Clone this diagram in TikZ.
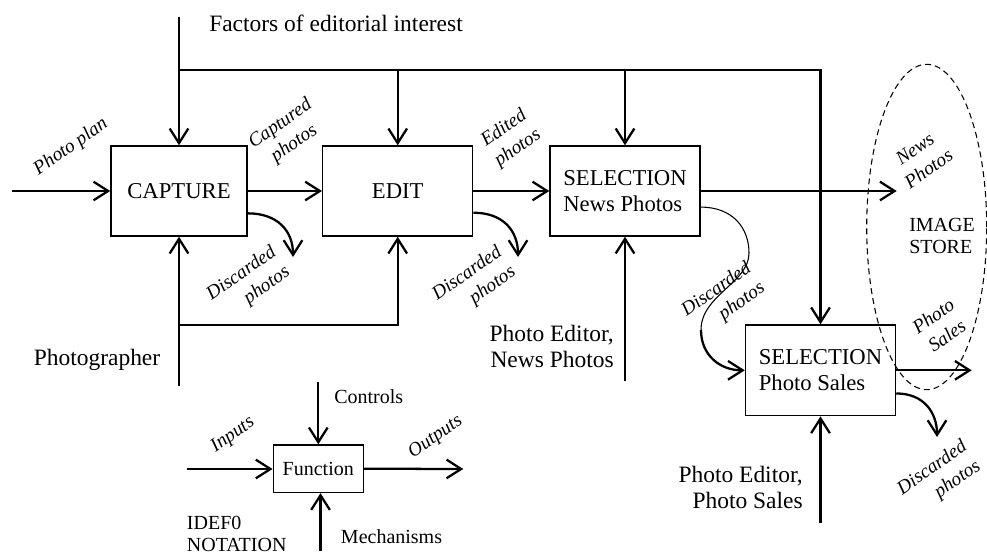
\documentclass[tikz,border=0pt]{standalone}
\usepackage{fontspec}
\setmainfont{Liberation Serif}
\usetikzlibrary{arrows.meta}
\begin{document}
\begin{tikzpicture}[x=0.75pt,y=-0.75pt,
  box/.style={draw, line width=1.1pt, inner sep=2pt, font=\fontsize{17}{19.5}\selectfont, align=left},
  arr/.style={line width=1.7pt, -{Straight Barb[length=11pt,width=14pt]}},
  thinln/.style={line width=0.8pt},
  lbl/.style={inner sep=0pt, font=\fontsize{17.6}{19.5}\selectfont},
  sm/.style={inner sep=0pt, font=\fontsize{15}{16.3}\selectfont},
  it/.style={inner sep=0pt, font=\fontsize{14.5}{18}\selectfont\itshape, rotate=35, align=center},
  store/.style={dashed, line width=0.8pt, dash pattern=on 4.5pt off 3pt},
]
\useasboundingbox (0,0) rectangle (987,554);

% boxes
\node[box, minimum width=102pt, minimum height=67.5pt] (cap) at (179,191) {CAPTURE};
\node[box, minimum width=112.5pt, minimum height=67.5pt] (edit) at (397.7,191) {EDIT};
\node[box, minimum width=112.5pt, minimum height=67.5pt] (news) at (625,191) {SELECTION\\News Photos};
\node[box, minimum width=112.5pt, minimum height=68pt] (sales) at (820.5,370.3) {SELECTION\\Photo Sales};
\node[box, font=\fontsize{15}{16.5}\selectfont, minimum width=67.5pt, minimum height=35.5pt] (fn) at (318.3,468.7) {Function};

% free ends
\coordinate (ftop) at (179,17);
\coordinate (busL) at (179,70);
\coordinate (busR) at (820.5,70);
\coordinate (pp) at (12,191);
\coordinate (newsout) at (896.7,191);
\coordinate (salesout) at (971.7,370.3);
\coordinate (ph) at (179,386);
\coordinate (phb) at (179,325);
\coordinate (pen) at (625,381);
\coordinate (pes) at (820.5,523);
\coordinate (ctl) at (318.3,382);
\coordinate (mech) at (320.5,551);
\coordinate (inp) at (186.7,469);
\coordinate (outp) at (463.3,469);
\coordinate (cd) at (293,257);
\coordinate (ed) at (518,257);
\coordinate (sd) at (937,437);
\coordinate (nd1) at (749,253);
\coordinate (nd2) at (701,330);

% connectors
\draw[arr] (ftop) -- (cap.north);
\draw[arr] (busL) -- (busR) -- (sales.north);
\draw[arr] (busL -| edit.north) -- (edit.north);
\draw[arr] (busL -| news.north) -- (news.north);
\draw[arr] (pp) -- (cap.west);
\draw[arr] (cap.east) -- (edit.west);
\draw[arr] (edit.east) -- (news.west);
\draw[arr] (news.east) -- (newsout);
\draw[arr] (sales.east) -- (salesout);
\draw[arr] (ph) -- (cap.south);
\draw[arr] (phb) -- (phb -| edit.south) -- (edit.south);
\draw[arr] (pen) -- (news.south);
\draw[arr] (pes) -- (sales.south);
\draw[arr] (ctl) -- (ctl |- fn.north);
\draw[arr] (mech) -- (mech |- fn.south);
\draw[arr] (inp) -- (inp -| fn.west);
\draw[arr] (fn.east) -- (outp);

% discarded
\draw[arr] (cap.-18.3) .. controls +(30,0) and +(0,-26) .. (cd);
\draw[arr] (edit.-16.7) .. controls +(30,0) and +(0,-26) .. (ed);
\draw[arr] (sales.-17.6) .. controls +(28,0) and +(0,-24) .. (sd);
\draw[thinln] (news.-12.8) .. controls +(32,0) and +(0,-25) .. (nd1) .. controls +(0,30) and +(0,-35) .. (nd2);
\draw[arr] (nd2) .. controls +(0,25) and +(-25,0) .. (sales.west);

% image store
\draw[store] (926.7,227) ellipse [x radius=45pt, y radius=122pt];

% labels
\node[lbl, anchor=west] (fac) at (209,23) {Factors of editorial interest};
\node[lbl] (phg) at (97,360) {Photographer};
\node[lbl, anchor=east, align=right] (pedn) at (614,346) {Photo Editor,\\News Photos};
\node[lbl, anchor=east, align=right] (peds) at (803,487) {Photo Editor,\\Photo Sales};
\node[sm, anchor=west] (ctll) at (334,397) {Controls};
\node[sm, anchor=west] (mechl) at (340.7,537) {Mechanisms};
\node[sm, anchor=north west, align=left] (idef) at (186.7,516) {IDEF0\\NOTATION};
\node[sm, anchor=west, align=left] (storel) at (909,236) {IMAGE\\STORE};

\node[it] (ppl) at (71,147) {Photo plan};
\node[it] (capl) at (287.5,134) {Captured\\photos};
\node[it] (edl) at (511,138.5) {Edited\\photos};
\node[it, align=right] (cdl) at (248.6,283.8) {Discarded\\photos};
\node[it, align=right] (edl2) at (474.3,283.8) {Discarded\\photos};
\node[it, align=right] (ndl) at (723.6,299.8) {Discarded\\photos};
\node[it, align=right] (sdl) at (939.3,478.2) {Discarded\\photos};
\node[it] (npl) at (921.7,158.7) {News\\Photos};
\node[it] (psl) at (940,325.7) {Photo\\Sales};
\node[it] (inl) at (233,435) {Inputs};
\node[it] (outl) at (435.7,437.3) {Outputs};
\end{tikzpicture}
\end{document}
